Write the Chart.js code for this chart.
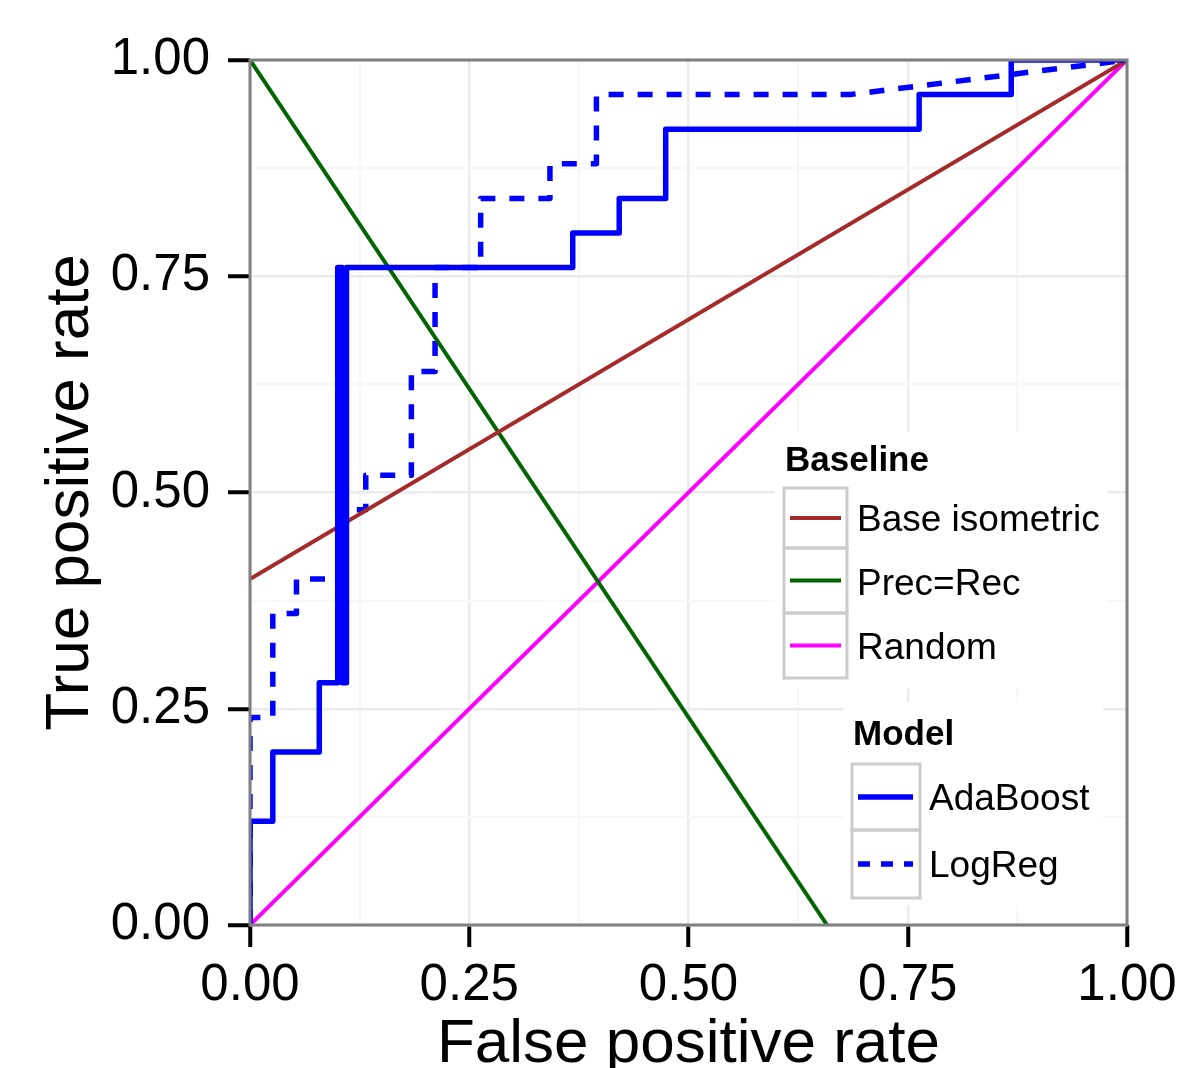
<!DOCTYPE html>
<html>
<head>
<meta charset="utf-8">
<script src="https://cdn.jsdelivr.net/npm/chart.js@4/dist/chart.umd.min.js"></script>
<style>
  body { margin: 0; background: #fff; }
  #wrap { position: relative; width: 1179px; height: 1068px; }
</style>
</head>
<body>
<div id="wrap"><canvas id="roc" width="1179" height="1068"></canvas></div>
<script>
var FONT = "'Liberation Sans', Arial, Helvetica, sans-serif";

// axis ticks
var tickValues = [0, 0.25, 0.5, 0.75, 1];
var tickLabels = ['0.00', '0.25', '0.50', '0.75', '1.00'];

// ROC curves (fpr / tpr)
var adaFpr = [0, 0, 0.026, 0.026, 0.079, 0.079, 0.100, 0.100, 0.105, 0.105, 0.110, 0.110, 0.368, 0.368, 0.421, 0.421, 0.474, 0.474, 0.763, 0.763, 0.868, 0.868, 1.00];
var adaTpr = [0, 0.12, 0.12, 0.20, 0.20, 0.28, 0.28, 0.76, 0.76, 0.28, 0.28, 0.76, 0.76, 0.80, 0.80, 0.84, 0.84, 0.92, 0.92, 0.96, 0.96, 1.00, 1.00];

var logFpr = [0, 0, 0.026, 0.026, 0.053, 0.053, 0.105, 0.105, 0.132, 0.132, 0.184, 0.184, 0.211, 0.211, 0.263, 0.263, 0.342, 0.342, 0.395, 0.395, 0.684, 1.00];
var logTpr = [0, 0.24, 0.24, 0.36, 0.36, 0.40, 0.40, 0.48, 0.48, 0.52, 0.52, 0.64, 0.64, 0.76, 0.76, 0.84, 0.84, 0.88, 0.88, 0.96, 0.96, 1.00];

// baselines
var isoFpr = [0, 1];
var isoTpr = [0.40, 1];
var precRecFpr = [0, 0.658];
var precRecTpr = [1, 0];
var randomFpr = [0, 1];
var randomTpr = [0, 1];

function toPoints(xs, ys) {
    let pts = [];
    for(let i=0; i<xs.length; i++) {
        pts.push({x: xs[i], y: ys[i]});
    }
    return pts;
}

function isMajor(v) {
    return Math.abs(v*4 - Math.round(v*4)) < 1e-9;
}

function tickText(v) {
    for(let i=0; i<tickValues.length; i++) {
        if(Math.abs(tickValues[i]-v) < 1e-9) {
            return tickLabels[i];
        }
    }
    return '';
}

function axisOpts(title, isX) {
    return {
        type: 'linear',
        min: 0,
        max: 1,
        ticks: {
            stepSize: 0.125,
            autoSkip: false,
            maxRotation: 0,
            color: '#000',
            padding: isX ? 8 : 18,
            font: { family: FONT, size: 51 },
            callback: function(v) { return tickText(v); }
        },
        grid: {
            drawTicks: true,
            tickLength: 22,
            tickWidth: 4,
            color: function(c) { return (c.tick && isMajor(c.tick.value)) ? '#EBEBEB' : '#F7F7F7'; },
            lineWidth: function(c) { return (c.tick && isMajor(c.tick.value)) ? 2.5 : 2; },
            tickColor: function(c) { return (c.tick && isMajor(c.tick.value)) ? '#000' : 'rgba(0,0,0,0)'; }
        },
        border: { display: false },
        title: {
            display: true,
            text: title,
            color: '#000',
            font: { family: FONT, size: 62, lineHeight: isX ? 0.76 : 1.2 },
            padding: isX ? 0 : { top: 34, bottom: 0 }
        },
        afterFit: function(scale) {
            // fixed panel box, no extra room for end labels
            scale.paddingLeft = 0;
            scale.paddingRight = 0;
            scale.paddingTop = 0;
            scale.paddingBottom = 0;
            if(isX) {
                scale.height = 143;
            } else {
                scale.width = 250;
            }
        }
    };
}

// panel border on top of the lines
var panelBorder = {
    id: 'panelBorder',
    afterDatasetsDraw: function(chart) {
        let a = chart.chartArea;
        let ctx = chart.ctx;
        ctx.save();
        ctx.strokeStyle = '#7F7F7F';
        ctx.lineWidth = 3;
        ctx.strokeRect(a.left, a.top, a.right - a.left, a.bottom - a.top);
        ctx.restore();
    }
};

// ggplot style legends inside the panel
var legendBoxes = {
    id: 'legendBoxes',
    afterDraw: function(chart) {
        let ctx = chart.ctx;
        ctx.save();

        ctx.fillStyle = '#fff';
        ctx.fillRect(775, 432, 332, 256);
        ctx.fillRect(843, 702, 260, 203);

        ctx.fillStyle = '#000';
        ctx.textAlign = 'left';
        ctx.textBaseline = 'alphabetic';
        ctx.font = 'bold 35px ' + FONT;
        ctx.fillText('Baseline', 785, 471);
        ctx.fillText('Model', 853, 745);

        let baseKeys = [
            {label: 'Base isometric', color: '#A52A2A', top: 488, bottom: 548, text: 531},
            {label: 'Prec=Rec', color: '#006400', top: 548, bottom: 613, text: 595},
            {label: 'Random', color: '#FF00FF', top: 613, bottom: 678, text: 659}
        ];
        ctx.font = '37px ' + FONT;
        baseKeys.forEach(function(k) {
            ctx.strokeStyle = '#CCCCCC';
            ctx.lineWidth = 3;
            ctx.setLineDash([]);
            ctx.strokeRect(784, k.top, 63, k.bottom - k.top);
            let my = (k.top + k.bottom) / 2;
            ctx.strokeStyle = k.color;
            ctx.lineWidth = 4;
            ctx.beginPath();
            ctx.moveTo(790, my);
            ctx.lineTo(841, my);
            ctx.stroke();
            ctx.fillStyle = '#000';
            ctx.fillText(k.label, 857, k.text);
        });

        let modelKeys = [
            {label: 'AdaBoost', dash: [], top: 764, bottom: 830, text: 810},
            {label: 'LogReg', dash: [12, 11], top: 830, bottom: 898, text: 877}
        ];
        modelKeys.forEach(function(k) {
            ctx.strokeStyle = '#CCCCCC';
            ctx.lineWidth = 3;
            ctx.setLineDash([]);
            ctx.strokeRect(852, k.top, 68, k.bottom - k.top);
            let my = (k.top + k.bottom) / 2;
            ctx.strokeStyle = '#0000FF';
            ctx.lineWidth = 5.5;
            ctx.lineCap = 'butt';
            ctx.setLineDash(k.dash);
            ctx.beginPath();
            ctx.moveTo(858, my);
            ctx.lineTo(913, my);
            ctx.stroke();
            ctx.setLineDash([]);
            ctx.fillStyle = '#000';
            ctx.fillText(k.label, 929, k.text);
        });

        ctx.restore();
    }
};

function lineSet(label, pts, color, width, dash, order) {
    return {
        label: label,
        data: pts,
        borderColor: color,
        backgroundColor: color,
        borderWidth: width,
        borderDash: dash,
        borderCapStyle: 'butt',
        borderJoinStyle: 'round',
        pointRadius: 0,
        fill: false,
        tension: 0,
        showLine: true,
        order: order
    };
}

var ctx = document.getElementById('roc').getContext('2d');
var rocChart = new Chart(ctx, {
    type: 'line',
    data: {
        datasets: [
            lineSet('AdaBoost', toPoints(adaFpr, adaTpr), '#0000FF', 5.5, [], 0),
            lineSet('Base isometric', toPoints(isoFpr, isoTpr), '#A52A2A', 4, [], 1),
            lineSet('Prec=Rec', toPoints(precRecFpr, precRecTpr), '#006400', 4, [], 1),
            lineSet('Random', toPoints(randomFpr, randomTpr), '#FF00FF', 4, [], 1),
            lineSet('LogReg', toPoints(logFpr, logTpr), '#0000FF', 5.5, [15, 14], 2)
        ]
    },
    options: {
        responsive: false,
        animation: false,
        parsing: false,
        layout: { padding: { top: 60, right: 52, left: 0, bottom: 0 } },
        plugins: {
            legend: { display: false },
            tooltip: { enabled: false }
        },
        scales: {
            x: axisOpts('False positive rate', true),
            y: axisOpts('True positive rate', false)
        }
    },
    plugins: [panelBorder, legendBoxes]
});
</script>
</body>
</html>
